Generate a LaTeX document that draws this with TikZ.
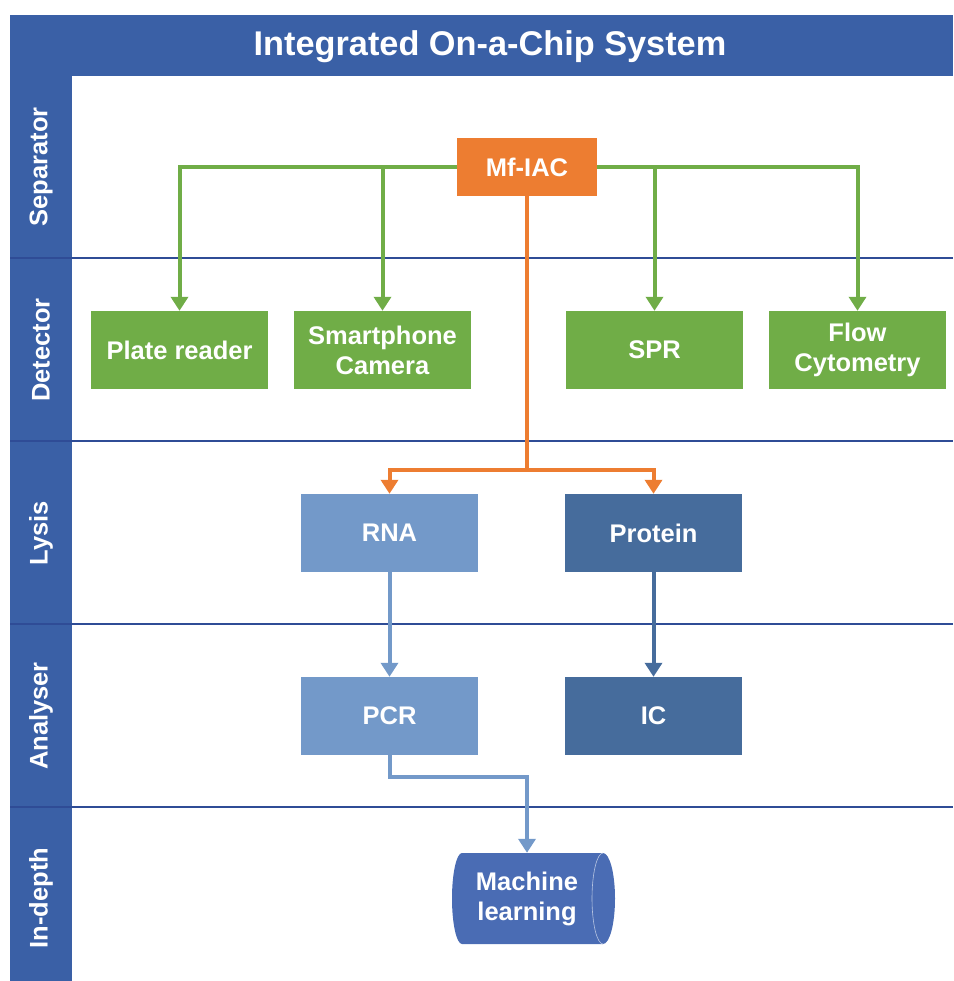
\documentclass[tikz,border=0pt]{standalone}
\usepackage{fontspec}
\setmainfont{Liberation Sans}
\usetikzlibrary{arrows.meta}
\definecolor{hdrblue}{HTML}{3A60A6}
\definecolor{laneline}{HTML}{2F4C96}
\definecolor{mfgreen}{HTML}{70AD47}
\definecolor{mforange}{HTML}{ED7D31}
\definecolor{lightblu}{HTML}{7399C9}
\definecolor{darkblu}{HTML}{466C9C}
\definecolor{cylblue}{HTML}{4A6CB4}
\tikzset{
  lbl/.style={text=white,font=\bfseries\fontsize{25.5}{30}\selectfont,align=center,inner sep=0pt},
  lanelbl/.style={lbl,rotate=90},
  box/.style={lbl,minimum width=177pt,minimum height=78pt},
  greenbox/.style={box,fill=mfgreen},
  rnabox/.style={box,fill=lightblu},
  protbox/.style={box,fill=darkblu},
  conn/.style={line width=4pt,-{Triangle[width=17pt,length=14pt]}},
  lane/.style={draw=laneline,line width=1.5pt},
}
\begin{document}
\begin{tikzpicture}[x=1pt,y=-1pt]
\useasboundingbox (0,0) rectangle (953,981);
% frame
\fill[hdrblue] (10,15) rectangle (953,76);
\fill[hdrblue] (10,76) rectangle (72,981);
\foreach \yy in {258,441,624,807} \draw[lane] (10,\yy) -- (953,\yy);
\node[lbl,font=\bfseries\fontsize{34.3}{38}\selectfont,anchor=base] (title) at (490,56) {Integrated On-a-Chip System};
% lane labels
\node[lanelbl] (lsep) at (41,167) {Separator};
\node[lanelbl] (ldet) at (41,350) {Detector};
\node[lanelbl] (llys) at (41,533) {Lysis};
\node[lanelbl] (lana) at (41,716) {Analyser};
\node[lanelbl] (ldep) at (41,898) {In-depth};
% nodes
\node[lbl,fill=mforange,minimum width=140pt,minimum height=58pt] (mf) at (527,167) {Mf-IAC};
\node[greenbox] (plate) at (179.5,350) {Plate reader};
\node[greenbox] (smart) at (382.5,350) {Smartphone\\Camera};
\node[greenbox] (spr) at (654.5,350) {SPR};
\node[greenbox] (flow) at (857.5,350) {Flow\\Cytometry};
\node[rnabox] (rna) at (389.5,533) {RNA};
\node[protbox] (prot) at (653.5,533) {Protein};
\node[rnabox] (pcr) at (389.5,716) {PCR};
\node[protbox] (ic) at (653.5,716) {IC};
% cylinder
\fill[cylblue] (462,853) -- (603,853) arc[start angle=-90,end angle=90,x radius=12,y radius=45.5]
  -- (462,944) arc[start angle=90,end angle=270,x radius=10,y radius=45.5] -- cycle;
\draw[white!60!cylblue,line width=0.6pt] (603,853) arc[start angle=-90,end angle=-270,x radius=11,y radius=45.5];
\node[lbl,minimum width=130pt,minimum height=91pt] (ml) at (527,898.5) {Machine\\learning};
% connectors
\coordinate (oj) at (527,470);
\coordinate (pj) at (389.5,777);
\draw[conn,mfgreen] (mf.west) -| (plate.north);
\draw[conn,mfgreen] (mf.west) -| (smart.north);
\draw[conn,mfgreen] (mf.east) -| (spr.north);
\draw[conn,mfgreen] (mf.east) -| (flow.north);
\draw[conn,mforange] (mf.south) -- (oj) -| (rna.north);
\draw[conn,mforange] (oj) -| (prot.north);
\draw[conn,lightblu] (rna.south) -- (pcr.north);
\draw[conn,darkblu] (prot.south) -- (ic.north);
\draw[conn,lightblu] (pcr.south) -- (pj) -| (ml.north);
\end{tikzpicture}
\end{document}
